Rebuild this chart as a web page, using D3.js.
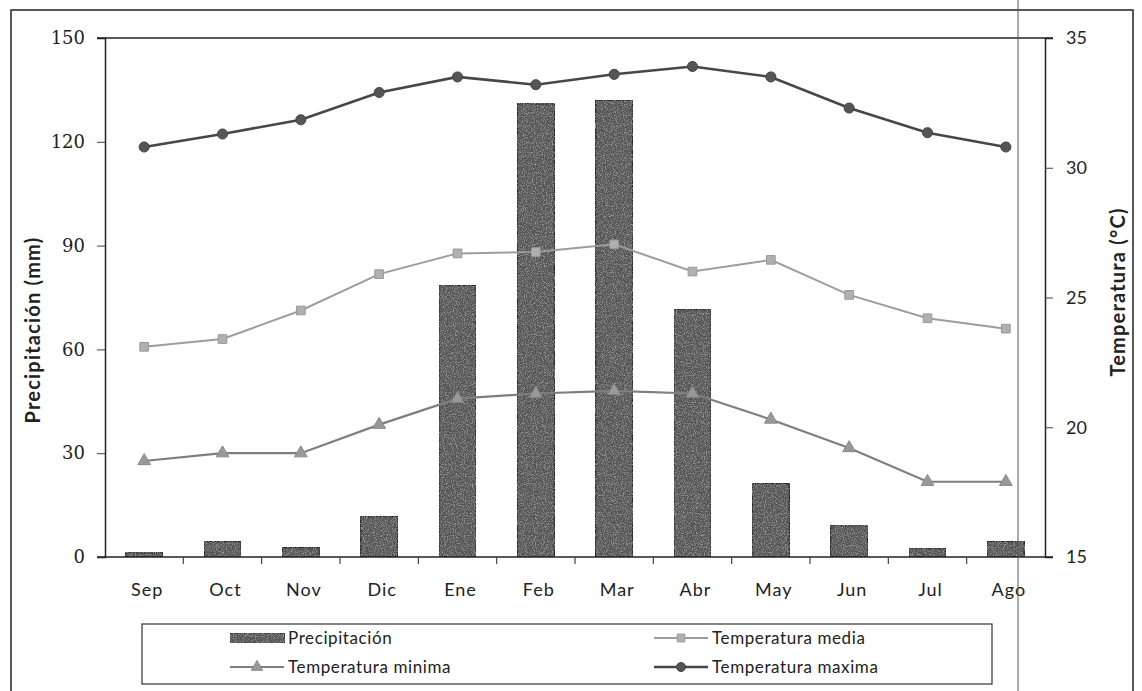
<!DOCTYPE html>
<html>
<head>
<meta charset="utf-8">
<script src="https://cdn.jsdelivr.net/npm/d3@7"></script>
<style>
  html, body { margin: 0; padding: 0; background: #fff; }
  svg { display: block; }
</style>
</head>
<body>
<svg id="chart" width="1142" height="691"></svg>
<script>
// Monthly climate data (hydrological year Sep–Ago)
const months = ["Sep", "Oct", "Nov", "Dic", "Ene", "Feb", "Mar", "Abr", "May", "Jun", "Jul", "Ago"];
const precipitacion = [1.2, 4.5, 2.7, 11.7, 78.5, 131, 132, 71.5, 21.2, 9, 2.5, 4.5];
const tempMaxima = [30.8, 31.3, 31.85, 32.9, 33.5, 33.2, 33.6, 33.9, 33.5, 32.3, 31.35, 30.8];
const tempMedia = [23.1, 23.4, 24.5, 25.9, 26.7, 26.75, 27.05, 26.0, 26.45, 25.1, 24.2, 23.8];
const tempMinima = [18.7, 19.0, 19.0, 20.1, 21.1, 21.3, 21.4, 21.3, 20.3, 19.2, 17.9, 17.9];
const precipTicks = [0, 30, 60, 90, 120, 150];
const tempTicks = [15, 20, 25, 30, 35];

const svg = d3.select("#chart");
const plot = { left: 105, right: 1045, top: 38, bottom: 557 };

const x = d3.scaleBand().domain(months).range([plot.left, plot.right]).paddingInner(0).paddingOuter(0);
const yP = d3.scaleLinear().domain([0, 150]).range([plot.bottom, plot.top]);
const yT = d3.scaleLinear().domain([15, 35]).range([plot.bottom, plot.top]);

const sans = "Lato, 'Open Sans', sans-serif";

// Grain texture for the bars
const defs = svg.append("defs");
const grain = defs.append("filter").attr("id", "grain").attr("x", 0).attr("y", 0).attr("width", 1).attr("height", 1);
grain.append("feTurbulence").attr("type", "fractalNoise").attr("baseFrequency", 0.9).attr("numOctaves", 2).attr("seed", 4).attr("result", "noise");
grain.append("feColorMatrix").attr("in", "noise").attr("type", "matrix")
  .attr("values", "0 0 0 0 0.55  0 0 0 0 0.55  0 0 0 0 0.55  0 0 0 1.6 -0.75").attr("result", "speck");
grain.append("feComposite").attr("in", "speck").attr("in2", "SourceGraphic").attr("operator", "in").attr("result", "speckIn");
grain.append("feMerge").call(m => {
  m.append("feMergeNode").attr("in", "SourceGraphic");
  m.append("feMergeNode").attr("in", "speckIn");
});

// Outer frame
svg.append("rect").attr("x", 11).attr("y", 10).attr("width", 1122).attr("height", 700)
  .attr("fill", "none").attr("stroke", "#222").attr("stroke-width", 1.5);

// Plot top border
svg.append("line").attr("x1", plot.left - 8).attr("x2", plot.right + 8)
  .attr("y1", plot.top).attr("y2", plot.top).attr("stroke", "#222").attr("stroke-width", 1.5);

// Bars (precipitation)
const bw = 37;
svg.append("g").selectAll("rect").data(precipitacion).join("rect")
  .attr("x", (d, i) => x(months[i]) + x.bandwidth() / 2 - bw / 2)
  .attr("y", d => yP(d))
  .attr("width", bw)
  .attr("height", d => yP(0) - yP(d))
  .attr("fill", "#575757")
  .attr("stroke", "#2a2a2a")
  .attr("stroke-width", 1.4)
  .attr("filter", "url(#grain)");

// Left axis
const axL = d3.axisLeft(yP).tickValues(precipTicks).tickSize(8).tickPadding(14);
const gL = svg.append("g").attr("transform", `translate(${plot.left},0)`).call(axL);
gL.select(".domain").attr("stroke", "#222").attr("stroke-width", 1.5);
gL.selectAll(".tick line").attr("stroke", "#444");
gL.selectAll("text").attr("font-family", "'DejaVu Serif', 'Liberation Serif', serif")
  .attr("font-size", 18).attr("fill", "#222").attr("dx", 2);
gL.selectAll(".tick").filter(d => d === 150).select("line").remove();

// Right axis
const axR = d3.axisRight(yT).tickValues(tempTicks).tickSize(8).tickPadding(13);
const gR = svg.append("g").attr("transform", `translate(${plot.right},0)`).call(axR);
gR.select(".domain").attr("stroke", "#222").attr("stroke-width", 1.5);
gR.selectAll(".tick line").attr("stroke", "#444");
gR.selectAll("text").attr("font-family", sans).attr("font-size", 18).attr("fill", "#222");
gR.selectAll(".tick").filter(d => d === 35).select("line").remove();

// Bottom axis: ticks between categories
const gB = svg.append("g").attr("transform", `translate(0,${plot.bottom})`);
gB.append("line").attr("x1", plot.left - 8).attr("x2", plot.right + 8).attr("y1", 0).attr("y2", 0)
  .attr("stroke", "#222").attr("stroke-width", 1.5);
gB.selectAll("line.tk").data(months.slice(1)).join("line").attr("class", "tk")
  .attr("x1", d => x(d)).attr("x2", d => x(d)).attr("y1", 0).attr("y2", 7)
  .attr("stroke", "#444").attr("stroke-width", 1.2);
gB.selectAll("text").data(months).join("text")
  .attr("x", d => x(d) + x.bandwidth() / 2 + 3)
  .attr("y", 39)
  .attr("text-anchor", "middle")
  .attr("font-family", sans).attr("font-size", 18).attr("letter-spacing", 1).attr("fill", "#222")
  .text(d => d);

// Temperature lines
const series = [
  { name: "Temperatura maxima", values: tempMaxima, stroke: "#474747", width: 2.6, marker: "circle", mfill: "#555", mstroke: "#444" },
  { name: "Temperatura media", values: tempMedia, stroke: "#9d9d9d", width: 2, marker: "square", mfill: "#b0b0b0", mstroke: "#999" },
  { name: "Temperatura minima", values: tempMinima, stroke: "#7e7e7e", width: 2.2, marker: "triangle", mfill: "#999", mstroke: "#888" }
];
const cx = i => x(months[i]) + x.bandwidth() / 2;
const line = d3.line().x((d, i) => cx(i)).y(d => yT(d));
const symbolFor = { circle: d3.symbolCircle, square: d3.symbolSquare, triangle: d3.symbolTriangle };
const sizeFor = { circle: 80, square: 75, triangle: 70 };

series.forEach(s => {
  svg.append("path").datum(s.values).attr("d", line)
    .attr("fill", "none").attr("stroke", s.stroke).attr("stroke-width", s.width);
  svg.append("g").selectAll("path").data(s.values).join("path")
    .attr("transform", (d, i) => `translate(${cx(i)},${yT(d)})`)
    .attr("d", d3.symbol().type(symbolFor[s.marker]).size(sizeFor[s.marker]))
    .attr("fill", s.mfill).attr("stroke", s.mstroke).attr("stroke-width", 1);
});

// Axis titles
svg.append("text")
  .attr("transform", "translate(40,330) rotate(-90)")
  .attr("text-anchor", "middle")
  .attr("font-family", sans).attr("font-size", 20).attr("font-weight", "bold")
  .attr("letter-spacing", 1.2).attr("fill", "#222")
  .text("Precipitación (mm)");
svg.append("text")
  .attr("transform", "translate(1125,292) rotate(-90)")
  .attr("text-anchor", "middle")
  .attr("font-family", sans).attr("font-size", 20).attr("font-weight", "bold")
  .attr("letter-spacing", 1.2).attr("fill", "#222")
  .text("Temperatura (°C)");

// Legend
const lg = svg.append("g");
lg.append("rect").attr("x", 142).attr("y", 624).attr("width", 850).attr("height", 60)
  .attr("fill", "#fff").attr("stroke", "#333").attr("stroke-width", 1.2);

const legendItems = [
  { label: "Precipitación", kind: "bar", x: 230, y: 638 },
  { label: "Temperatura media", kind: series[1], x: 654, y: 638 },
  { label: "Temperatura minima", kind: series[2], x: 230, y: 667 },
  { label: "Temperatura maxima", kind: series[0], x: 654, y: 667 }
];
legendItems.forEach(it => {
  const g = lg.append("g");
  if (it.kind === "bar") {
    g.append("rect").attr("x", it.x).attr("y", it.y - 5).attr("width", 55).attr("height", 10)
      .attr("fill", "#575757").attr("stroke", "#333").attr("filter", "url(#grain)");
  } else {
    const s = it.kind;
    g.append("line").attr("x1", it.x).attr("x2", it.x + 54).attr("y1", it.y).attr("y2", it.y)
      .attr("stroke", s.stroke).attr("stroke-width", s.width);
    g.append("path").attr("transform", `translate(${it.x + 27},${it.y})`)
      .attr("d", d3.symbol().type(symbolFor[s.marker]).size(sizeFor[s.marker] * 0.8))
      .attr("fill", s.mfill).attr("stroke", s.mstroke);
  }
  g.append("text").attr("x", it.x + 58).attr("y", it.y + 6)
    .attr("font-family", sans).attr("font-size", 17).attr("letter-spacing", 0.6).attr("fill", "#222")
    .text(it.label);
});

// Page fold line crossing the figure
svg.append("line").attr("x1", 1018).attr("x2", 1018).attr("y1", 0).attr("y2", 691)
  .attr("stroke", "#555").attr("stroke-width", 1);
</script>
</body>
</html>
